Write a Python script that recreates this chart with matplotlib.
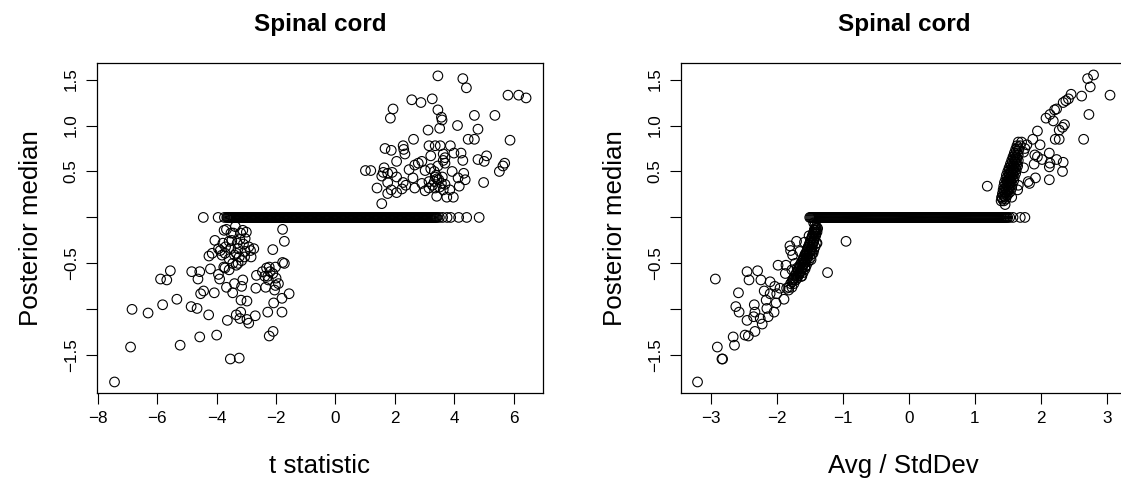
import numpy as np
import matplotlib
matplotlib.use("Agg")
import matplotlib.pyplot as plt

plt.rcParams['font.family'] = ['Liberation Sans', 'DejaVu Sans']

# ---- left panel: t statistic vs posterior median ----
t_up = [3.45, 4.29, 4.41, 5.81, 6.17, 6.42, 2.57, 2.88, 3.26, 1.94, 1.85, 3.45, 3.57, 3.59,
        4.68, 5.37, 4.11, 3.12, 3.51, 4.80, 2.63, 4.47, 4.68, 5.88, 2.28, 2.30, 2.34, 1.67,
        1.88, 3.15, 3.36, 3.53, 3.87, 3.99, 4.23, 3.21, 3.63, 3.69, 4.29, 4.80, 5.09, 5.01,
        2.06, 2.67, 2.79, 2.91, 3.69, 3.63, 2.48, 3.02, 3.21, 3.45, 3.33, 3.93, 4.32, 5.70,
        5.64, 5.52, 1.01, 1.19, 1.64, 1.61, 1.56, 1.76, 1.91, 2.06, 1.76, 2.61, 2.28, 2.37,
        2.91, 3.15, 3.39, 3.42, 3.33, 3.57, 3.69, 4.13, 4.37, 4.17, 4.99, 1.40, 1.88, 1.76,
        2.06, 2.24, 2.67, 3.02, 3.15, 3.36, 3.63, 3.85, 3.41, 3.75, 3.97, 1.56, 3.36, 3.48,
        3.27, 3.51, 3.60]
med_up = [1.54, 1.51, 1.41, 1.33, 1.33, 1.30, 1.28, 1.25, 1.29, 1.18, 1.08, 1.17, 1.09, 1.06,
          1.11, 1.11, 1.00, 0.95, 0.97, 0.96, 0.85, 0.85, 0.85, 0.84, 0.78, 0.74, 0.69, 0.75,
          0.73, 0.78, 0.78, 0.78, 0.78, 0.70, 0.70, 0.67, 0.69, 0.65, 0.62, 0.63, 0.67, 0.61,
          0.61, 0.57, 0.59, 0.61, 0.59, 0.62, 0.52, 0.51, 0.53, 0.56, 0.50, 0.50, 0.48, 0.59,
          0.56, 0.50, 0.51, 0.51, 0.54, 0.49, 0.45, 0.48, 0.49, 0.44, 0.38, 0.43, 0.38, 0.35,
          0.37, 0.39, 0.46, 0.42, 0.39, 0.37, 0.36, 0.43, 0.41, 0.34, 0.38, 0.32, 0.30, 0.26,
          0.27, 0.31, 0.32, 0.29, 0.32, 0.32, 0.30, 0.30, 0.23, 0.22, 0.22, 0.15, 0.44, 0.41,
          0.35, 0.33, 0.44]

t_low = [-7.44, -6.90, -6.85, -6.31, -5.82, -5.89, -5.68, -5.56, -5.34, -5.23, -4.86, -4.66,
         -4.84, -4.57, -4.63, -4.54, -4.44, -4.57, -4.27, -4.21, -4.26, -4.15, -4.08, -4.00,
         -4.06, -3.94, -3.90, -3.88, -3.79, -3.75, -3.67, -3.72, -3.76, -3.67, -3.72, -3.64,
         -3.54, -3.46, -3.40, -3.58, -3.52, -3.49, -3.44, -3.37, -3.34, -3.28, -3.22, -3.19,
         -3.12, -3.10, -3.04, -3.00, -3.18, -2.98, -3.19, -3.34, -3.22, -3.24, -2.98, -2.92,
         -2.70, -3.12, -3.16, -2.84, -2.75, -2.66, -2.68, -2.46, -2.32, -2.28, -2.26, -2.35,
         -2.28, -2.23, -2.10, -2.11, -2.08, -2.02, -2.00, -2.02, -1.92, -1.80, -1.80, -1.78,
         -1.72, -1.78, -1.72, -1.56, -2.20, -2.11, -3.94, -3.82, -3.70, -3.31, -3.28, -3.24,
         -3.16, -3.40, -3.46, -3.58, -2.92, -2.86, -3.06, -3.34, -3.52, -3.58, -3.04, -2.23,
         -2.05, -2.38]
med_low = [-1.79, -1.41, -1.00, -1.04, -0.95, -0.67, -0.68, -0.58, -0.89, -1.39, -0.97, -0.99,
           -0.59, -0.59, -0.67, -0.83, -0.80, -1.30, -1.06, -0.56, -0.42, -0.39, -0.82, -1.28,
           -0.25, -0.62, -0.67, -0.36, -0.28, -0.14, -0.13, -0.39, -0.54, -0.76, -0.55, -1.12,
           -1.54, -0.82, -0.72, -0.45, -0.34, -0.25, -0.17, -0.10, -0.39, -0.50, -0.24, -0.17,
           -0.14, -0.29, -0.37, -0.16, -0.90, -0.91, -1.03, -1.06, -1.10, -1.53, -1.11, -1.15,
           -1.07, -0.68, -0.75, -0.43, -0.34, -0.63, -0.77, -0.59, -0.55, -0.64, -0.68, -0.76,
           -1.03, -1.29, -1.24, -0.35, -0.93, -0.54, -0.66, -0.74, -0.72, -0.88, -1.03, -0.13,
           -0.26, -0.49, -0.50, -0.83, -0.59, -0.61, -0.34, -0.41, -0.32, -0.28, -0.34, -0.43,
           -0.47, -0.41, -0.50, -0.57, -0.32, -0.36, -0.43, -0.52, -0.17, -0.26, -0.23, -0.54,
           -0.79, -0.64]

# genes shrunk to exactly zero (dense band at posterior median 0)
t_zero = [-4.45, -3.95, -3.74,
          -3.66, -3.63, -3.60, -3.57, -3.54, -3.51, -3.48, -3.45, -3.42, -3.39, -3.36, -3.33,
          -3.30, -3.27, -3.24, -3.21, -3.18, -3.15, -3.12, -3.09, -3.06, -3.03, -3.00, -2.97,
          -2.94, -2.91, -2.88, -2.85, -2.82, -2.79, -2.76, -2.73, -2.70, -2.67, -2.64, -2.61,
          -2.58, -2.55, -2.52, -2.49, -2.46, -2.43, -2.40, -2.37, -2.34, -2.31, -2.28, -2.25,
          -2.22, -2.19, -2.16, -2.13, -2.10, -2.07, -2.04, -2.01, -1.98, -1.95, -1.92, -1.89,
          -1.86, -1.83, -1.80, -1.77, -1.74, -1.71, -1.68, -1.65, -1.62, -1.59, -1.56, -1.53,
          -1.50, -1.47, -1.44, -1.41, -1.38, -1.35, -1.32, -1.29, -1.26, -1.23, -1.20, -1.17,
          -1.14, -1.11, -1.08, -1.05, -1.02, -0.99, -0.96, -0.93, -0.90, -0.87, -0.84, -0.81,
          -0.78, -0.75, -0.72, -0.69, -0.66, -0.63, -0.60, -0.57, -0.54, -0.51, -0.48, -0.45,
          -0.42, -0.39, -0.36, -0.33, -0.30, -0.27, -0.24, -0.21, -0.18, -0.15, -0.12, -0.09,
          -0.06, -0.03, 0.00, 0.03, 0.06, 0.09, 0.12, 0.15, 0.18, 0.21, 0.24, 0.27,
          0.30, 0.33, 0.36, 0.39, 0.42, 0.45, 0.48, 0.51, 0.54, 0.57, 0.60, 0.63,
          0.66, 0.69, 0.72, 0.75, 0.78, 0.81, 0.84, 0.87, 0.90, 0.93, 0.96, 0.99,
          1.02, 1.05, 1.08, 1.11, 1.14, 1.17, 1.20, 1.23, 1.26, 1.29, 1.32, 1.35,
          1.38, 1.41, 1.44, 1.47, 1.50, 1.53, 1.56, 1.59, 1.62, 1.65, 1.68, 1.71,
          1.74, 1.77, 1.80, 1.83, 1.86, 1.89, 1.92, 1.95, 1.98, 2.01, 2.04, 2.07,
          2.10, 2.13, 2.16, 2.19, 2.22, 2.25, 2.28, 2.31, 2.34, 2.37, 2.40, 2.43,
          2.46, 2.49, 2.52, 2.55, 2.58, 2.61, 2.64, 2.67, 2.70, 2.73, 2.76, 2.79,
          2.82, 2.85, 2.88, 2.91, 2.94, 2.97, 3.00, 3.03, 3.06, 3.09, 3.12, 3.15,
          3.18, 3.21, 3.24, 3.27, 3.30, 3.33, 3.36, 3.39, 3.42,
          3.50, 3.61, 3.76, 3.88, 4.15, 4.42, 4.84]

# ---- right panel: Avg / StdDev vs posterior median ----
r_low = [-3.20, -2.93, -2.90, -2.83, -2.82, -2.66, -2.64, -2.62, -2.57, -2.58, -2.48, -2.43,
         -2.45, -2.42, -2.29, -2.24, -2.34, -2.45, -2.33, -2.35, -2.33, -2.25, -2.22, -2.19,
         -2.16, -2.15, -2.13, -2.10, -2.10, -2.04, -2.03, -2.01, -2.00, -1.98, -1.86, -1.95,
         -1.89, -1.87, -1.85, -1.82, -1.80, -1.79, -1.76, -1.77, -1.75, -1.72, -1.70, -1.69,
         -1.66, -1.62, -1.65, -1.60, -1.58, -1.57, -1.55, -1.52, -1.51, -1.48, -1.47, -1.45,
         -1.43, -1.40, -1.42, -1.39, -1.45, -0.95, -1.23,
         -1.42, -1.38, -1.44, -1.39, -1.46, -1.41, -1.48, -1.43, -1.50, -1.45, -1.40,
         -1.52, -1.47, -1.42, -1.54, -1.49, -1.44, -1.57, -1.52, -1.47, -1.59, -1.54, -1.49,
         -1.62, -1.57, -1.52, -1.65, -1.60, -1.55, -1.67, -1.62, -1.57, -1.70, -1.65, -1.60,
         -1.73, -1.68, -1.63, -1.76, -1.71, -1.79, -1.74, -1.82, -1.77,
         -1.43, -1.40, -1.45, -1.41, -1.47, -1.43, -1.49, -1.44, -1.51, -1.46, -1.53, -1.48,
         -1.55, -1.50, -1.58, -1.53, -1.60, -1.55, -1.63, -1.58, -1.66, -1.61, -1.68, -1.63,
         -1.71, -1.66, -1.74, -1.69, -1.77, -1.44, -1.42, -1.40]
rmed_low = [-1.79, -0.67, -1.41, -1.54, -1.54, -1.30, -1.39, -0.97, -1.03, -0.82, -1.28, -1.29,
            -0.59, -0.68, -0.58, -0.68, -0.95, -1.12, -1.03, -1.08, -1.24, -1.10, -1.16, -0.80,
            -0.90, -0.99, -1.08, -0.70, -0.83, -1.03, -0.75, -0.93, -0.83, -0.52, -0.52, -0.77,
            -0.89, -0.61, -0.77, -0.79, -0.31, -0.36, -0.41, -0.57, -0.68, -0.50, -0.26, -0.55,
            -0.61, -0.64, -0.37, -0.46, -0.27, -0.54, -0.41, -0.32, -0.20, -0.46, -0.36, -0.27,
            -0.14, -0.12, -0.17, -0.28, -0.39, -0.26, -0.60,
            -0.12, -0.12, -0.16, -0.16, -0.20, -0.20, -0.24, -0.24, -0.28, -0.28, -0.28,
            -0.32, -0.32, -0.32, -0.36, -0.36, -0.36, -0.40, -0.40, -0.40, -0.44, -0.44, -0.44,
            -0.48, -0.48, -0.48, -0.52, -0.52, -0.52, -0.56, -0.56, -0.56, -0.60, -0.60, -0.60,
            -0.64, -0.64, -0.64, -0.68, -0.68, -0.72, -0.72, -0.76, -0.76,
            -0.14, -0.14, -0.18, -0.18, -0.22, -0.22, -0.26, -0.26, -0.30, -0.30, -0.34, -0.34,
            -0.38, -0.38, -0.42, -0.42, -0.46, -0.46, -0.50, -0.50, -0.54, -0.54, -0.58, -0.58,
            -0.62, -0.62, -0.66, -0.66, -0.70, -0.06, -0.08, -0.10]

r_up = [2.80, 2.71, 2.75, 3.05, 2.62, 2.46, 2.42, 2.38, 2.34, 2.73, 2.24, 2.21, 2.14, 2.08,
        2.19, 2.36, 2.33, 2.28, 1.95, 2.65, 2.22, 2.28, 1.88, 1.99, 1.79, 1.76, 1.74, 2.13,
        1.91, 1.95, 2.02, 2.24, 2.34, 2.14, 2.13, 1.90, 1.74, 2.33, 1.92, 1.81, 1.83, 2.13,
        1.66, 1.65, 1.19, 1.56, 1.41, 1.46,
        1.40, 1.44, 1.41, 1.46, 1.42, 1.47, 1.51, 1.43, 1.48, 1.52, 1.44, 1.49, 1.54,
        1.45, 1.50, 1.55, 1.47, 1.52, 1.57, 1.48, 1.53, 1.58, 1.50, 1.55, 1.60,
        1.52, 1.57, 1.62, 1.54, 1.59, 1.64, 1.56, 1.61, 1.66, 1.58, 1.63, 1.60, 1.65,
        1.62, 1.67, 1.64, 1.69, 1.66, 1.71,
        1.42, 1.47, 1.44, 1.49, 1.45, 1.50, 1.54, 1.46, 1.51, 1.56, 1.47, 1.52, 1.57,
        1.49, 1.54, 1.59, 1.50, 1.55, 1.60, 1.52, 1.57, 1.62, 1.53, 1.58, 1.63,
        1.55, 1.60, 1.65, 1.57, 1.62, 1.59, 1.64, 1.61, 1.66, 1.63, 1.65]
rmed_up = [1.55, 1.51, 1.42, 1.33, 1.32, 1.34, 1.29, 1.27, 1.25, 1.12, 1.18, 1.17, 1.12, 1.08,
           1.05, 1.01, 0.98, 0.95, 0.94, 0.85, 0.85, 0.85, 0.85, 0.79, 0.79, 0.75, 0.71, 0.70,
           0.68, 0.66, 0.63, 0.63, 0.60, 0.59, 0.55, 0.58, 0.54, 0.50, 0.43, 0.39, 0.37, 0.41,
           0.35, 0.30, 0.34, 0.22, 0.22, 0.14,
           0.18, 0.18, 0.22, 0.22, 0.26, 0.26, 0.26, 0.30, 0.30, 0.30, 0.34, 0.34, 0.34,
           0.38, 0.38, 0.38, 0.42, 0.42, 0.42, 0.46, 0.46, 0.46, 0.50, 0.50, 0.50,
           0.54, 0.54, 0.54, 0.58, 0.58, 0.58, 0.62, 0.62, 0.62, 0.66, 0.66, 0.70, 0.70,
           0.74, 0.74, 0.78, 0.78, 0.82, 0.82,
           0.20, 0.20, 0.24, 0.24, 0.28, 0.28, 0.28, 0.32, 0.32, 0.32, 0.36, 0.36, 0.36,
           0.40, 0.40, 0.40, 0.44, 0.44, 0.44, 0.48, 0.48, 0.48, 0.52, 0.52, 0.52,
           0.56, 0.56, 0.56, 0.60, 0.60, 0.64, 0.64, 0.68, 0.68, 0.72, 0.76]

r_zero = [-1.500, -1.485, -1.470, -1.455, -1.440, -1.425, -1.410, -1.395, -1.380, -1.365,
          -1.350, -1.335, -1.320, -1.305, -1.290, -1.275, -1.260, -1.245, -1.230, -1.215,
          -1.200, -1.185, -1.170, -1.155, -1.140, -1.125, -1.110, -1.095, -1.080, -1.065,
          -1.050, -1.035, -1.020, -1.005, -0.990, -0.975, -0.960, -0.945, -0.930, -0.915,
          -0.900, -0.885, -0.870, -0.855, -0.840, -0.825, -0.810, -0.795, -0.780, -0.765,
          -0.750, -0.735, -0.720, -0.705, -0.690, -0.675, -0.660, -0.645, -0.630, -0.615,
          -0.600, -0.585, -0.570, -0.555, -0.540, -0.525, -0.510, -0.495, -0.480, -0.465,
          -0.450, -0.435, -0.420, -0.405, -0.390, -0.375, -0.360, -0.345, -0.330, -0.315,
          -0.300, -0.285, -0.270, -0.255, -0.240, -0.225, -0.210, -0.195, -0.180, -0.165,
          -0.150, -0.135, -0.120, -0.105, -0.090, -0.075, -0.060, -0.045, -0.030, -0.015,
          0.000, 0.015, 0.030, 0.045, 0.060, 0.075, 0.090, 0.105, 0.120, 0.135,
          0.150, 0.165, 0.180, 0.195, 0.210, 0.225, 0.240, 0.255, 0.270, 0.285,
          0.300, 0.315, 0.330, 0.345, 0.360, 0.375, 0.390, 0.405, 0.420, 0.435,
          0.450, 0.465, 0.480, 0.495, 0.510, 0.525, 0.540, 0.555, 0.570, 0.585,
          0.600, 0.615, 0.630, 0.645, 0.660, 0.675, 0.690, 0.705, 0.720, 0.735,
          0.750, 0.765, 0.780, 0.795, 0.810, 0.825, 0.840, 0.855, 0.870, 0.885,
          0.900, 0.915, 0.930, 0.945, 0.960, 0.975, 0.990, 1.005, 1.020, 1.035,
          1.050, 1.065, 1.080, 1.095, 1.110, 1.125, 1.140, 1.155, 1.170, 1.185,
          1.200, 1.215, 1.230, 1.245, 1.260, 1.275, 1.290, 1.305, 1.320, 1.335,
          1.350, 1.365, 1.380, 1.395, 1.410, 1.425, 1.440, 1.455, 1.470, 1.485,
          1.500, 1.53, 1.58, 1.69, 1.76]

# axis ticks
y_ticks = [1.5, 1.0, 0.5, 0.0, -0.5, -1.0, -1.5]
y_ticklabels = ['1.5', '1.0', '0.5', '', '\u22120.5', '', '\u22121.5']
t_ticks = [-8, -6, -4, -2, 0, 2, 4, 6]
t_ticklabels = ['\u22128', '\u22126', '\u22124', '\u22122', '0', '2', '4', '6']
r_ticks = [-3, -2, -1, 0, 1, 2, 3]
r_ticklabels = ['\u22123', '\u22122', '\u22121', '0', '1', '2', '3']

W, H = 1121, 483
fig = plt.figure(figsize=(W / 100, H / 100), dpi=100)
ax1 = fig.add_axes([96.7 / W, 90 / H, 446.3 / W, 330 / H])
ax2 = fig.add_axes([680.7 / W, 90 / H, 446.3 / W, 330 / H])


def draw_panel(ax, xs_list, ys_list, xticks, xticklabels, xlim, xlabel):
    for xs, ys in zip(xs_list, ys_list):
        ax.scatter(xs, ys, s=48, facecolors='none', edgecolors='black', linewidths=0.8)
    ax.set_xlim(*xlim)
    ax.set_ylim(-1.91, 1.68)
    ax.set_xticks(xticks)
    ax.set_xticklabels(xticklabels)
    ax.set_yticks(y_ticks)
    ax.set_yticklabels(y_ticklabels)
    ax.tick_params(axis='both', direction='out', length=8, width=0.8, labelsize=12.3)
    ax.tick_params(axis='x', pad=5)
    ax.tick_params(axis='y', pad=5, labelrotation=90)
    for lab in ax.get_yticklabels():
        lab.set_va('center')
    for sp in ax.spines.values():
        sp.set_linewidth(0.9)
    ax.set_title('Spinal cord', fontsize=17.5, fontweight='bold', pad=23)
    ax.set_xlabel(xlabel, fontsize=18.6)
    ax.set_ylabel('Posterior median', fontsize=18.6)
    ax.xaxis.set_label_coords(0.5, -0.185)
    ax.yaxis.set_label_coords(-0.121, 0.5)


draw_panel(ax1, [t_zero, t_up, t_low], [[0.0] * len(t_zero), med_up, med_low],
           t_ticks, t_ticklabels, (-8.04, 6.99), 't statistic')
draw_panel(ax2, [r_zero, r_up, r_low], [[0.0] * len(r_zero), rmed_up, rmed_low],
           r_ticks, r_ticklabels, (-3.455, 3.307), 'Avg / StdDev')

fig.savefig('out.png', dpi=100)
